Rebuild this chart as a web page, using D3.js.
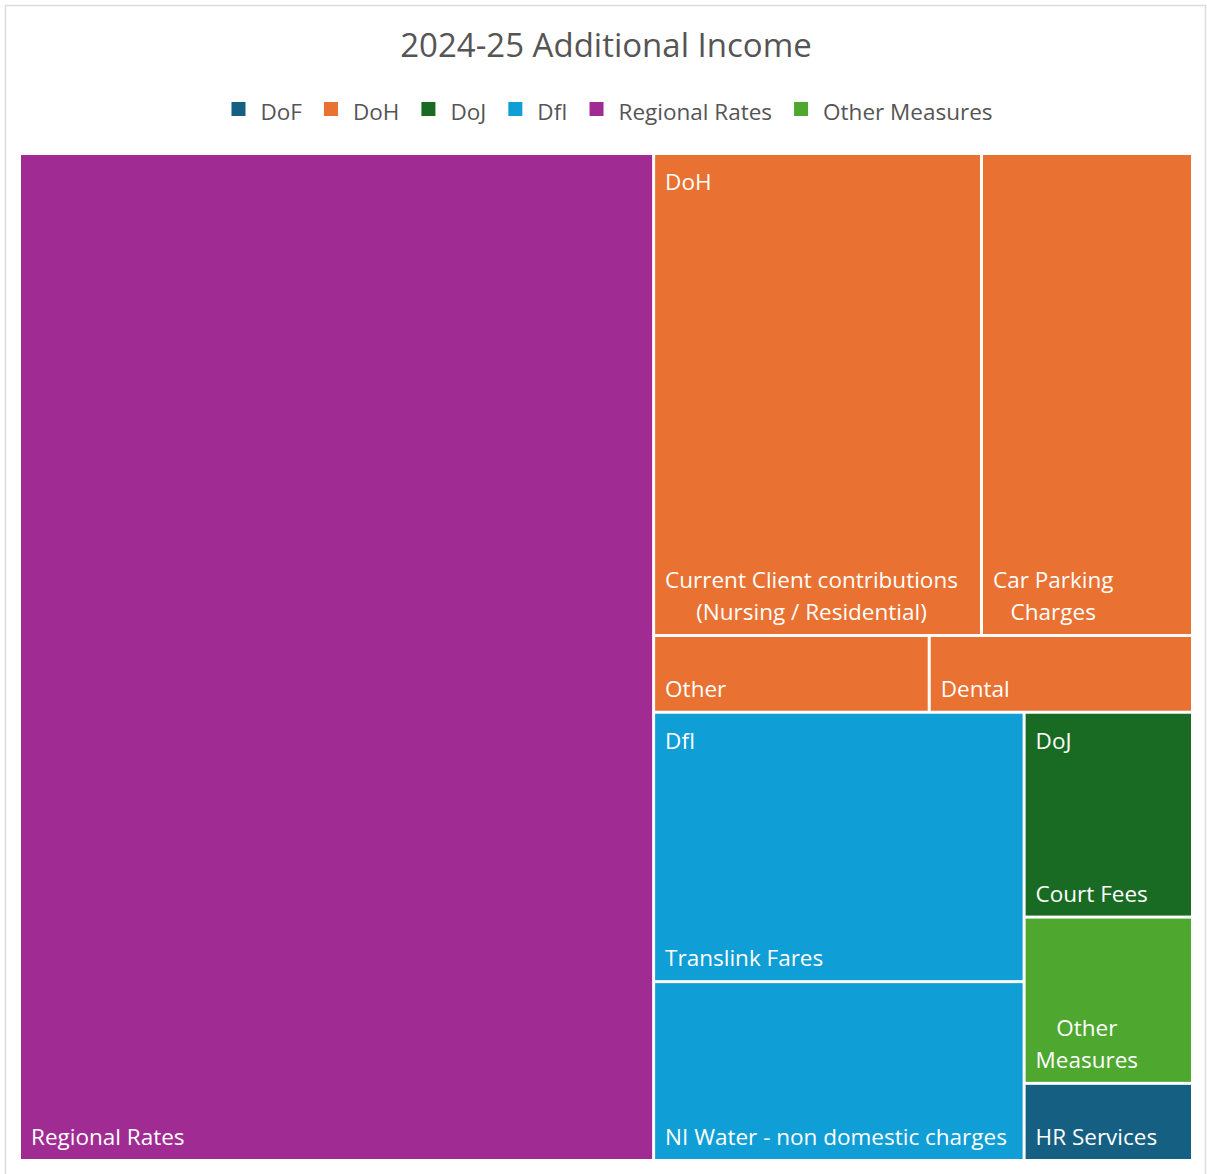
<!DOCTYPE html>
<html>
<head>
<meta charset="utf-8">
<script src="https://cdn.jsdelivr.net/npm/d3@7"></script>
<style>
  body { margin: 0; background: #fff; }
  svg { display: block; font-family: "Open Sans", sans-serif; }
</style>
</head>
<body>
<svg id="chart" width="1207" height="1174"></svg>
<script>
// legend order / group colours
var groups = ['DoF', 'DoH', 'DoJ', 'DfI', 'Regional Rates', 'Other Measures'];
var groupColors = ['#156082', '#E97132', '#196B24', '#0F9ED5', '#A02B93', '#4EA72E'];

// leaf items (values read off the tile areas, £m approx)
var items = ['Regional Rates', 'Current Client contributions (Nursing / Residential)', 'Car Parking Charges',
  'Other', 'Dental', 'Translink Fares', 'NI Water - non domestic charges', 'Court Fees', 'Other Measures', 'HR Services'];
var itemGroups = ['Regional Rates', 'DoH', 'DoH', 'DoH', 'DoH', 'DfI', 'DfI', 'DoJ', 'Other Measures', 'DoF'];
var itemValues = [540.6, 133.8, 86.1, 17.9, 17.1, 84.5, 56.1, 29.2, 23.7, 11.0];

var title = '2024-25 Additional Income';

var svg = d3.select('#chart');
var plot = { left: 21, top: 155, width: 1170, height: 1004 };
var color = d3.scaleOrdinal().domain(groups).range(groupColors);

// frame
svg.append('rect')
    .attr('x', 5.5).attr('y', 5.5)
    .attr('width', 1200).attr('height', 1180)
    .attr('fill', '#fff')
    .attr('stroke', '#dcdcdc')
    .attr('stroke-width', 1.5);

svg.append('text')
    .attr('x', 606).attr('y', 57)
    .attr('text-anchor', 'middle')
    .attr('font-size', 33)
    .attr('fill', '#555')
    .text(title);

// measuring helper
var measure = svg.append('text').attr('visibility', 'hidden');
var textWidth = function (str, size) {
  measure.attr('font-size', size).text(str);
  return measure.node().getComputedTextLength();
};

// legend
var legendSize = 22.5;
var legendWidths = groups.map(function (g) { return 14 + 15 + textWidth(g, legendSize); });
var legendGap = 22;
var legendTotal = d3.sum(legendWidths) + legendGap * (groups.length - 1);
var lx = 612 - legendTotal / 2;
var legend = svg.append('g');
groups.forEach(function (g, i) {
  var item = legend.append('g').attr('transform', 'translate(' + lx + ',0)');
  item.append('rect')
      .attr('x', 0).attr('y', 102)
      .attr('width', 14).attr('height', 14)
      .attr('fill', color(g));
  item.append('text')
      .attr('x', 29).attr('y', 120)
      .attr('font-size', legendSize)
      .attr('fill', '#555')
      .text(g);
  lx += legendWidths[i] + legendGap;
});

// hierarchy
var data = {
  name: 'root',
  children: groups.map(function (g) {
    return {
      name: g,
      children: items.map(function (name, i) {
        return { name: name, group: itemGroups[i], value: itemValues[i] };
      }).filter(function (d) { return d.group === g; })
    };
  })
};

var root = d3.hierarchy(data)
    .sum(function (d) { return d.children ? 0 : d.value; })
    .sort(function (a, b) { return b.value - a.value; });

d3.treemap()
    .tile(d3.treemapSquarify.ratio(1.3))
    .size([plot.width, plot.height])
    .paddingInner(3)(root);

var g = svg.append('g').attr('transform', 'translate(' + plot.left + ',' + plot.top + ')');

var labelSize = 22.5;
var lineHeight = 32;

var wrap = function (str, maxW) {
  var words = str.split(' ');
  var lines = [];
  var line = '';
  words.forEach(function (w) {
    var test = line ? line + ' ' + w : w;
    if (line && textWidth(test, labelSize) > maxW) {
      lines.push(line);
      line = w;
    } else {
      line = test;
    }
  });
  if (line) lines.push(line);
  return lines;
};

var leaves = g.selectAll('g.leaf').data(root.leaves()).enter().append('g').attr('class', 'leaf');

leaves.append('rect')
    .attr('x', function (d) { return d.x0; })
    .attr('y', function (d) { return d.y0; })
    .attr('width', function (d) { return d.x1 - d.x0; })
    .attr('height', function (d) { return d.y1 - d.y0; })
    .attr('fill', function (d) { return color(d.data.group); });

leaves.each(function (d) {
  var lines = wrap(d.data.name, d.x1 - d.x0 - 18);
  var blockW = d3.max(lines, function (l) { return textWidth(l, labelSize); });
  var cx = d.x0 + 10 + blockW / 2;
  var baseY = d.y1 - 14 - (lines.length - 1) * lineHeight;
  var t = d3.select(this).append('text')
      .attr('font-size', labelSize)
      .attr('fill', '#fff')
      .attr('text-anchor', 'middle');
  lines.forEach(function (l, i) {
    t.append('tspan').attr('x', cx).attr('y', baseY + i * lineHeight).text(l);
  });
});

// group headers (only where the group name is not repeated by its item and there is room)
var headers = root.children.filter(function (d) {
  return d.children.length > 1 || (d.children[0].data.name !== d.data.name && d.y1 - d.y0 > 120);
});
g.selectAll('text.header').data(headers).enter().append('text')
    .attr('class', 'header')
    .attr('x', function (d) { return d.x0 + 10; })
    .attr('y', function (d) { return d.y0 + 35; })
    .attr('font-size', labelSize)
    .attr('fill', '#fff')
    .text(function (d) { return d.data.name; });

measure.remove();
</script>
</body>
</html>
